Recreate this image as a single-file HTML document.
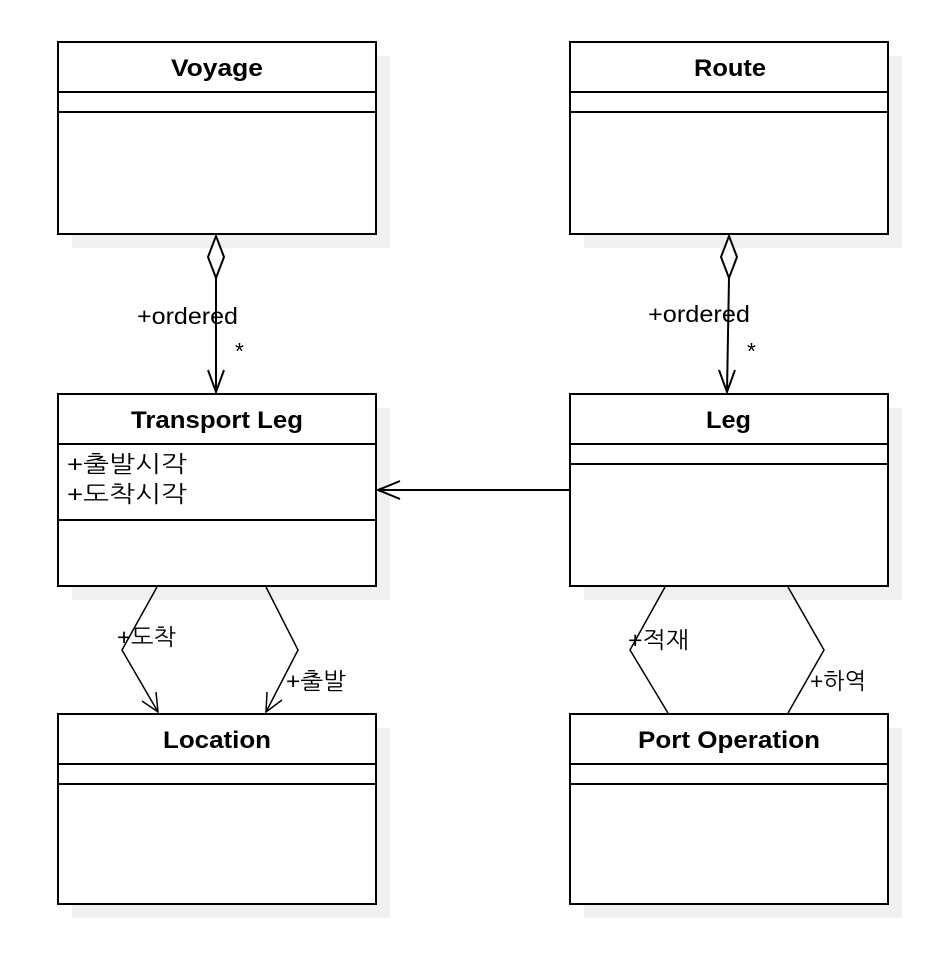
<!DOCTYPE html>
<html><head><meta charset="utf-8"><style>
body{margin:0;background:#fff;}
svg text{font-family:"Liberation Sans","NanumGothic","Noto Sans CJK KR",sans-serif;}
</style></head><body>
<svg width="932" height="962" viewBox="0 0 932 962" xmlns="http://www.w3.org/2000/svg">
<g fill="#f0f0f0">
<rect x="72" y="56" width="318" height="192"/>
<rect x="584" y="56" width="318" height="192"/>
<rect x="72" y="408" width="318" height="192"/>
<rect x="584" y="408" width="318" height="192"/>
<rect x="72" y="728" width="318" height="190"/>
<rect x="584" y="728" width="318" height="190"/>
</g>
<g fill="#fff" stroke="#000" stroke-width="2">
<rect x="58" y="42" width="318" height="192"/>
<line x1="58" y1="92" x2="376" y2="92"/><line x1="58" y1="112" x2="376" y2="112"/>
<rect x="570" y="42" width="318" height="192"/>
<line x1="570" y1="92" x2="888" y2="92"/><line x1="570" y1="112" x2="888" y2="112"/>
<rect x="58" y="394" width="318" height="192"/>
<line x1="58" y1="444" x2="376" y2="444"/><line x1="58" y1="520" x2="376" y2="520"/>
<rect x="570" y="394" width="318" height="192"/>
<line x1="570" y1="444" x2="888" y2="444"/><line x1="570" y1="464" x2="888" y2="464"/>
<rect x="58" y="714" width="318" height="190"/>
<line x1="58" y1="764" x2="376" y2="764"/><line x1="58" y1="784" x2="376" y2="784"/>
<rect x="570" y="714" width="318" height="190"/>
<line x1="570" y1="764" x2="888" y2="764"/><line x1="570" y1="784" x2="888" y2="784"/>
</g>
<g font-weight="bold" font-size="24" lengthAdjust="spacingAndGlyphs">
<text x="171" y="76" textLength="92" lengthAdjust="spacingAndGlyphs">Voyage</text>
<text x="694" y="76" textLength="72" lengthAdjust="spacingAndGlyphs">Route</text>
<text x="131" y="428" textLength="172" lengthAdjust="spacingAndGlyphs">Transport Leg</text>
<text x="706" y="428" textLength="45" lengthAdjust="spacingAndGlyphs">Leg</text>
<text x="163" y="748" textLength="108" lengthAdjust="spacingAndGlyphs">Location</text>
<text x="638" y="748" textLength="182" lengthAdjust="spacingAndGlyphs">Port Operation</text>
</g>
<g font-size="23">
<text x="67" y="472" textLength="120" lengthAdjust="spacingAndGlyphs">+출발시각</text>
<text x="67" y="502" textLength="120" lengthAdjust="spacingAndGlyphs">+도착시각</text>
</g>
<g fill="none" stroke="#000" stroke-width="2">
<path d="M216 236 L224 257 L216 278 L208 257 Z" fill="#fff"/>
<line x1="216" y1="278" x2="216" y2="392"/>
<path d="M208 370 L216 392 L224 370"/>
<path d="M729 236 L737 257 L729 278 L721 257 Z" fill="#fff"/>
<line x1="729" y1="278" x2="727" y2="392"/>
<path d="M719 370 L727 392 L735 370"/>
<line x1="570" y1="490" x2="378" y2="490"/>
<path d="M400 481 L378 490 L400 499"/>
</g>
<g fill="none" stroke="#000" stroke-width="1.5">
<polyline points="157,587 122,650 158,712"/>
<path d="M156 692 L158 712 L142 701"/>
<polyline points="266,587 298,650 266,712"/>
<path d="M267 692 L266 712 L282 700"/>
<polyline points="665,587 630,650 668,713"/>
<polyline points="788,587 824,650 788,713"/>
</g>
<g font-size="23">
<text x="137" y="324" textLength="101" lengthAdjust="spacingAndGlyphs">+ordered</text>
<text x="235" y="359">*</text>
<text x="648" y="322" textLength="102" lengthAdjust="spacingAndGlyphs">+ordered</text>
<text x="747" y="359">*</text>
<text x="117" y="645" textLength="59" lengthAdjust="spacingAndGlyphs">+도착</text>
<text x="286" y="689" textLength="60" lengthAdjust="spacingAndGlyphs">+출발</text>
<text x="628" y="648" textLength="61" lengthAdjust="spacingAndGlyphs">+적재</text>
<text x="810" y="689" textLength="56" lengthAdjust="spacingAndGlyphs">+하역</text>
</g>
</svg>
</body></html>
